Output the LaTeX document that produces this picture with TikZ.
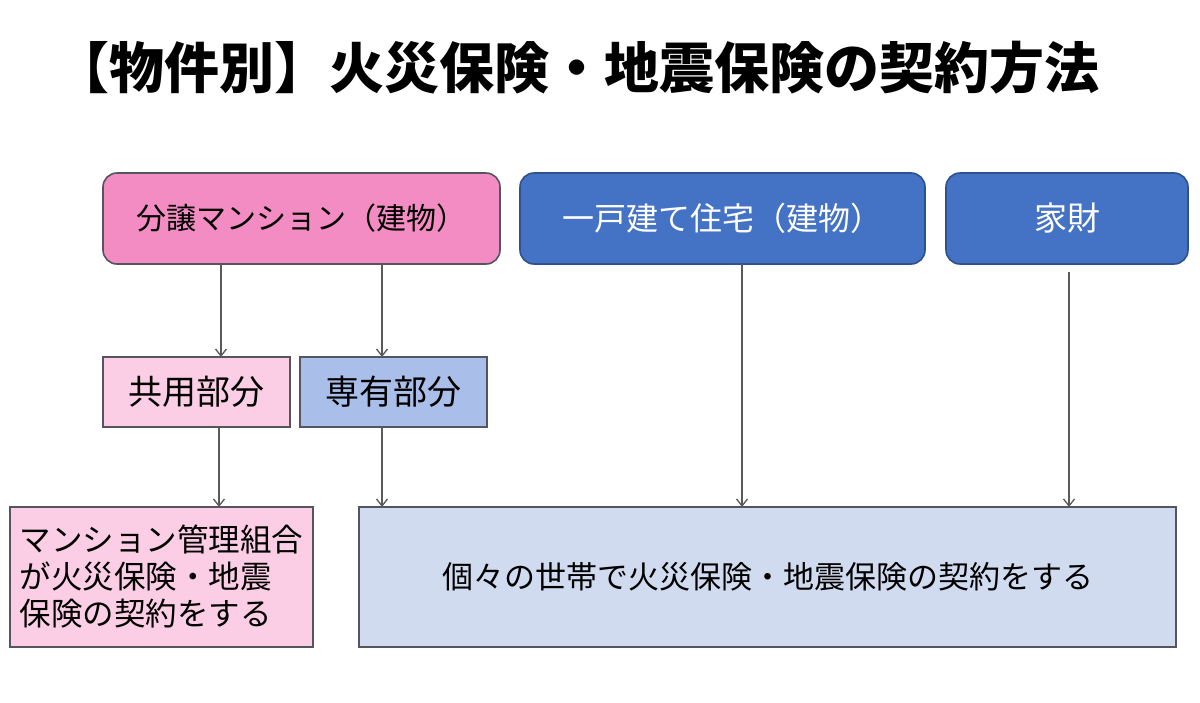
\documentclass[tikz,border=0pt]{standalone}
\usepackage{fontspec}
\newfontfamily\cjk{Noto Sans CJK JP}
\usetikzlibrary{arrows.meta}
\definecolor{pinkdark}{RGB}{243,140,194}
\definecolor{pinklight}{RGB}{251,206,229}
\definecolor{bluedark}{RGB}{68,114,196}
\definecolor{bluemid}{RGB}{169,190,232}
\definecolor{bluelight}{RGB}{209,219,239}
\definecolor{edgegray}{RGB}{85,85,95}
\definecolor{edgeblue}{RGB}{47,82,143}
\definecolor{linegray}{RGB}{90,90,90}
\begin{document}
\begin{tikzpicture}[x=1pt,y=-1pt,
  every node/.style={inner sep=0pt, outer sep=0pt, font=\cjk},
  rbox/.style={draw=edgegray, line width=1.6pt, rounded corners=14pt},
  bbox/.style={draw=edgeblue, line width=1.6pt, rounded corners=14pt, fill=bluedark, text=white},
  sbox/.style={draw=edgegray, line width=1.6pt},
  arr/.style={draw=linegray, line width=1.4pt, -{Straight Barb[length=7pt,width=11pt,line width=1.3pt]}}
]
\useasboundingbox (0,0) rectangle (1200,702);
\fill[white] (0,0) rectangle (1200,702);

\node[font=\cjk\bfseries\fontsize{55}{62}\selectfont] (title) at (577,68) {【物件別】火災保険・地震保険の契約方法};

\node[rbox, fill=pinkdark, minimum width=397pt, minimum height=91pt, font=\cjk\fontsize{30}{36}\selectfont] (bunjo) at (301.5,218.5) {分譲マンション（建物）};
\node[bbox, minimum width=405pt, minimum height=91pt, font=\cjk\fontsize{32}{38}\selectfont] (ikko) at (722.5,218.5) {一戸建て住宅（建物）};
\node[bbox, minimum width=242pt, minimum height=91pt, font=\cjk\fontsize{33}{38}\selectfont] (kazai) at (1067,218.5) {家財};

\node[sbox, fill=pinklight, minimum width=187pt, minimum height=70pt, font=\cjk\fontsize{34}{40}\selectfont] (kyoyo) at (196.5,392) {共用部分};
\node[sbox, fill=bluemid, minimum width=187pt, minimum height=70pt, font=\cjk\fontsize{34}{40}\selectfont] (senyu) at (393.5,392) {専有部分};

\node[sbox, fill=pinklight, minimum width=303pt, minimum height=140pt, align=left, font=\cjk\fontsize{31.5}{37}\selectfont] (kanri) at (161.5,577) {マンション管理組合\\が火災保険・地震\\保険の契約をする};
\node[sbox, fill=bluelight, minimum width=817pt, minimum height=140pt, font=\cjk\fontsize{31}{38}\selectfont] (kojin) at (767.5,577) {個々の世帯で火災保険・地震保険の契約をする};

\coordinate (x1) at (221,0);
\coordinate (x2) at (382,0);
\coordinate (x3) at (219,0);
\coordinate (x5) at (742,0);
\coordinate (x6) at (1069,0);
\coordinate (k6) at ([yshift=-8pt]kazai.south);

\draw[arr] (bunjo.south -| x1) -- (kyoyo.north -| x1);
\draw[arr] (bunjo.south -| x2) -- (senyu.north -| x2);
\draw[arr] (kyoyo.south -| x3) -- (kanri.north -| x3);
\draw[arr] (senyu.south -| x2) -- (kojin.north -| x2);
\draw[arr] (ikko.south -| x5) -- (kojin.north -| x5);
\draw[arr] (k6 -| x6) -- (kojin.north -| x6);
\end{tikzpicture}
\end{document}
